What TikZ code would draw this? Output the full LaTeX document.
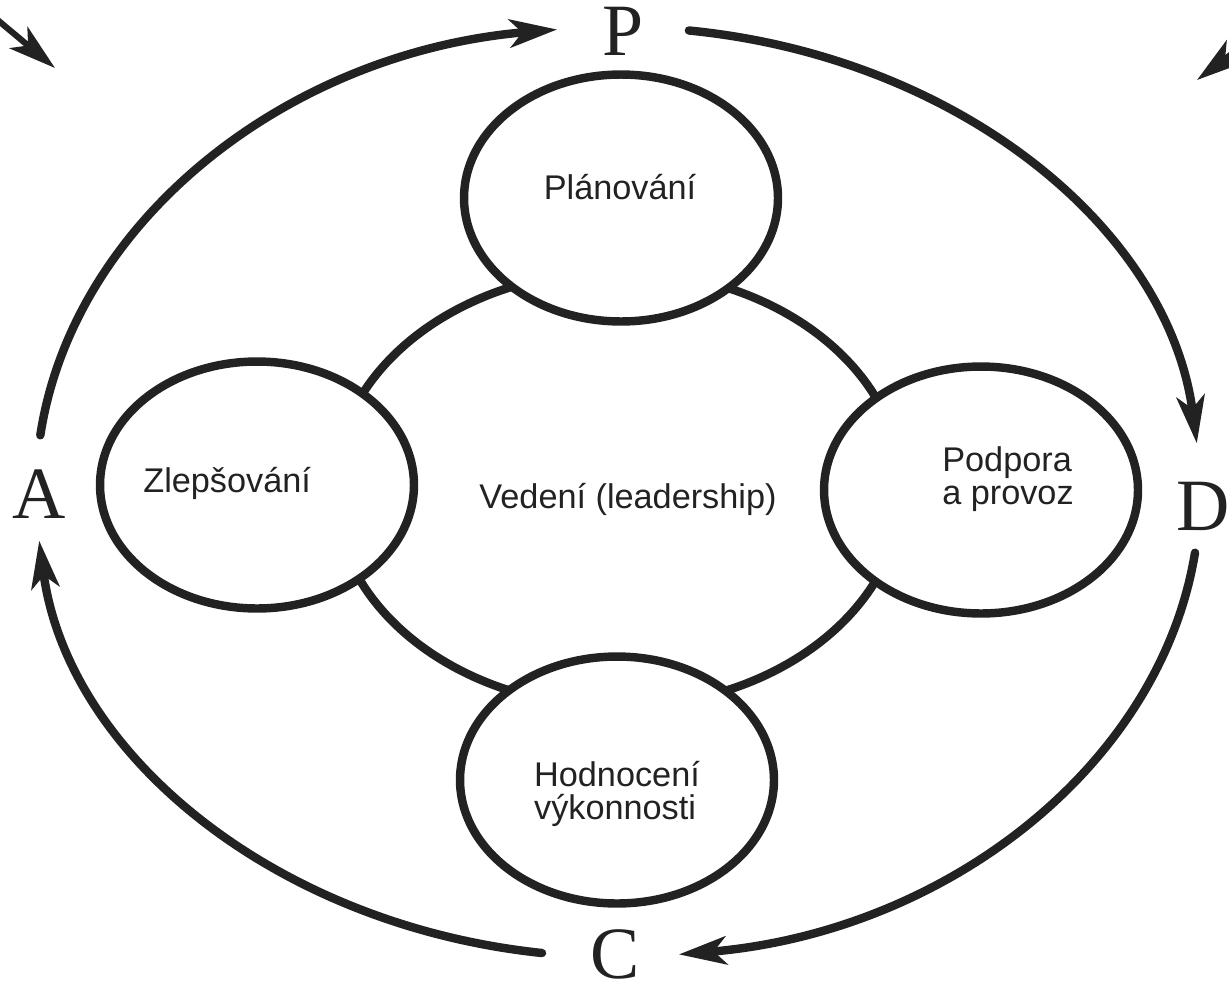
\documentclass[tikz,border=0pt]{standalone}
\usepackage{fontspec}
\setmainfont{Liberation Sans}
\newfontfamily\pdcafont{Liberation Serif}
\usetikzlibrary{shapes.geometric, arrows.meta, calc}
\definecolor{inkgray}{RGB}{34, 34, 34}

\begin{document}
\begin{tikzpicture}[x=0.02cm, y=0.02cm,
  ring/.style={ellipse, draw=inkgray, line width=4.8pt, fill=white, inner sep=0pt},
  phase/.style={ring, minimum width=6.28cm, minimum height=4.94cm},
  lbl/.style={font=\fontsize{19.5}{19}\selectfont, text=inkgray, align=left, inner sep=0pt},
  pdca/.style={font=\pdcafont\fontsize{42}{42}\selectfont, text=inkgray, anchor=base, inner sep=0pt},
  pdcaarrow/.style={draw=inkgray, line width=4.8pt, line cap=round,
    -{Stealth[length=0.95cm, width=0.56cm, inset=0.25cm]}}]
  \useasboundingbox (0,0) rectangle (1229,-987);
  \clip (0,0) rectangle (1229,-987);

  % leadership in the middle, the four phases around it
  \node[ring, minimum width=11.36cm, minimum height=8.72cm] (vedeni) at (618,-489) {};
  \node[phase] (plan) at (621,-198) {};
  \node[phase] (zlep) at (257,-485) {};
  \node[phase] (podpora) at (981,-490) {};
  \node[phase] (hodnoceni) at (617,-780) {};

  \node[lbl, anchor=base] (vedeniT) at (628,-508) {Vedení (leadership)};
  \node[lbl, anchor=base] (planT) at (620,-199) {Plánování};
  \node[lbl, anchor=base west] (zlepT) at (143,-492) {Zlepšování};
  \node[lbl] (podporaT) at (1008,-479) {Podpora\\a provoz};
  \node[lbl] (hodnoceniT) at (617,-794) {Hodnocení\\výkonnosti};

  % PDCA letters
  \node[pdca] (P) at (623,-55) {P};
  \node[pdca] (D) at (1203,-530) {D};
  \node[pdca] (C) at (615,-978) {C};
  \node[pdca] (A) at (39,-518) {A};

  \coordinate (a1) at (40.3,-435.3);
  \coordinate (p1) at (557.2,-29.5);
  \coordinate (p2) at (688.9,-30.5);
  \coordinate (d1) at (1196.8,-443.4);
  \coordinate (d2) at (1195.0,-552.7);
  \coordinate (c1) at (678.8,-954.4);
  \coordinate (c2) at (542.0,-953.0);
  \coordinate (a2) at (39.2,-540.6);

  \draw[pdcaarrow] (a1) to[out=81.3, in=184.8, out distance=4.35cm, in distance=5.41cm] (p1);
  \draw[pdcaarrow] (p2) to[out=-5.6, in=97.5, out distance=5.41cm, in distance=4.34cm] (d1);
  \draw[pdcaarrow] (d2) to[out=260.7, in=4.8, out distance=4.32cm, in distance=5.37cm] (c1);
  \draw[pdcaarrow] (c2) to[out=174.0, in=277.5, out distance=5.37cm, in distance=4.31cm] (a2);

  % arrows coming in from outside the page
  \coordinate (tlfrom) at (-15,-9.5);
  \coordinate (tlto) at (55,-68);
  \coordinate (trfrom) at (1285,-14);
  \coordinate (trto) at (1197,-80);
  \draw[pdcaarrow, line width=3.5pt] (tlfrom) -- (tlto);
  \draw[pdcaarrow, line width=3.5pt] (trfrom) -- (trto);
\end{tikzpicture}
\end{document}
